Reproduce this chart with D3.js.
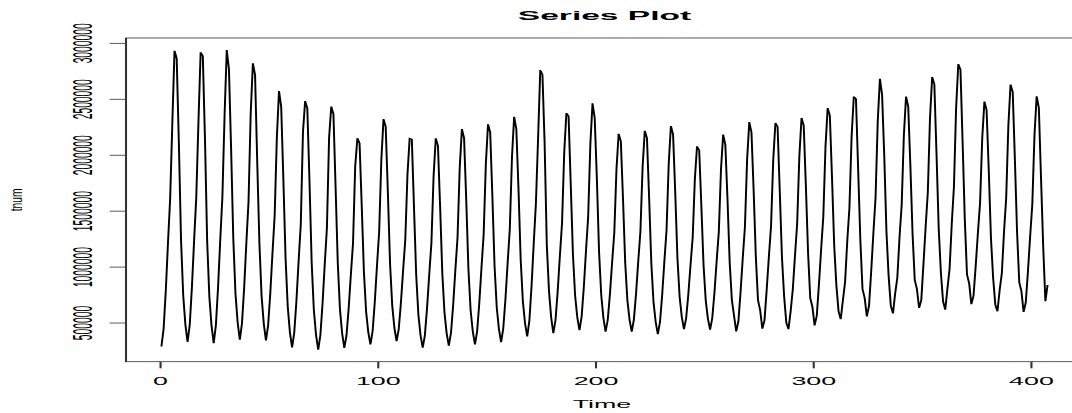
<!doctype html>
<html>
<head>
<meta charset="utf-8" />
<title>Series Plot</title>
<script src="https://d3js.org/d3.v7.min.js"></script>
<style>
  body { margin: 0; background: #fff; }
  svg { display: block; }
  text { font-family: "Liberation Sans", Arial, Helvetica, sans-serif; }
</style>
</head>
<body>
<svg width="1072" height="413"></svg>
<script>
// tnum, one value per month (t = 1..408), in thousands
var tnum = [
  285, 444, 787, 1210, 1607, 2283, 2929, 2861, 2104, 1236, 742, 481,
  325, 480, 817, 1232, 1620, 2294, 2915, 2882, 2137, 1226, 732, 472,
  316, 473, 814, 1233, 1626, 2354, 2936, 2766, 2050, 1252, 760, 501,
  346, 494, 816, 1211, 1582, 2370, 2817, 2712, 1931, 1207, 736, 489,
  340, 474, 764, 1120, 1455, 2150, 2569, 2429, 1780, 1079, 643, 414,
  276, 408, 695, 1047, 1378, 2200, 2479, 2414, 1760, 1035, 613, 390,
  257, 387, 670, 1018, 1344, 2150, 2430, 2363, 1700, 1027, 617, 401,
  272, 385, 628, 929, 1210, 1900, 2148, 2101, 1539, 949, 598, 414,
  303, 424, 686, 1008, 1311, 1955, 2318, 2250, 1663, 1028, 651, 452,
  333, 442, 678, 968, 1240, 1820, 2147, 2140, 1529, 930, 575, 387,
  275, 387, 631, 930, 1211, 1810, 2147, 2080, 1535, 941, 589, 403,
  292, 408, 660, 970, 1261, 1881, 2230, 2149, 1594, 977, 611, 419,
  303, 421, 677, 992, 1288, 1918, 2272, 2200, 1629, 1006, 637, 442,
  325, 446, 708, 1030, 1333, 1977, 2340, 2230, 1692, 1063, 690, 494,
  376, 519, 828, 1209, 1567, 2150, 2757, 2715, 2100, 1194, 781, 546,
  405, 523, 779, 1094, 1389, 2019, 2373, 2343, 1732, 1111, 742, 548,
  431, 553, 816, 1141, 1445, 2094, 2459, 2328, 1785, 1132, 745, 540,
  418, 524, 754, 1038, 1303, 1869, 2188, 2120, 1604, 1038, 701, 524,
  418, 526, 759, 1047, 1316, 1891, 2214, 2150, 1614, 1032, 686, 504,
  395, 507, 749, 1047, 1326, 1922, 2257, 2180, 1657, 1076, 731, 549,
  440, 538, 751, 1012, 1258, 1781, 2075, 2040, 1534, 1009, 697, 533,
  435, 540, 767, 1046, 1308, 1866, 2180, 2089, 1599, 1036, 702, 560,
  420, 510, 776, 1075, 1356, 1955, 2292, 2200, 1682, 1091, 700, 610,
  444, 520, 794, 1088, 1364, 1953, 2284, 2250, 1675, 1085, 735, 500,
  440, 600, 799, 1101, 1385, 1989, 2329, 2260, 1717, 1123, 720, 640,
  474, 560, 843, 1154, 1446, 2068, 2418, 2350, 1795, 1191, 832, 600,
  530, 700, 860, 1227, 1525, 2162, 2520, 2500, 1872, 1243, 800, 720,
  555, 650, 958, 1298, 1617, 2296, 2678, 2536, 1986, 1314, 916, 650,
  580, 760, 900, 1259, 1550, 2171, 2520, 2430, 1896, 1292, 880, 800,
  630, 700, 1022, 1353, 1663, 2323, 2695, 2630, 2009, 1343, 948, 690,
  615, 800, 980, 1383, 1713, 2415, 2810, 2760, 2101, 1414, 930, 850,
  663, 740, 1007, 1297, 1569, 2149, 2475, 2400, 1856, 1256, 900, 660,
  600, 790, 940, 1309, 1614, 2262, 2627, 2560, 1956, 1306, 860, 780,
  594, 680, 960, 1269, 1558, 2175, 2522, 2420, 1790, 1180, 690, 835
];
var unit = 1000;
var xTicks = [0, 100, 200, 300, 400];
var yTicks = [500000, 1000000, 1500000, 2000000, 2500000, 3000000];
var title = "Series Plot", xLabel = "Time", yLabel = "tnum";

// the picture is stretched sideways, strokes and text included
var stretch = 2.6;
var svg = d3.select("svg");
var g = svg.append("g").attr("transform", `scale(${stretch},1)`);

var n = tnum.length;
var xpad = 0.04 * (n - 1);
var x = d3.scaleLinear()
    .domain([1 - xpad, n + xpad])
    .range([126 / stretch, 1083 / stretch]);

var ext = d3.extent(tnum, d => d * unit);
var ypad = 0.04 * (ext[1] - ext[0]);
var y = d3.scaleLinear()
    .domain([ext[0] - ypad, ext[1] + ypad])
    .range([361.7, 38]);

// series
var line = d3.line()
    .x((d, i) => x(i + 1))
    .y(d => y(d * unit));

g.append("path")
  .datum(tnum)
  .attr("d", line)
  .attr("fill", "none")
  .attr("stroke", "#000")
  .attr("stroke-width", 0.75)
  .attr("shape-rendering", "crispEdges");

// box
g.append("rect")
  .attr("x", x.range()[0]).attr("y", y.range()[1])
  .attr("width", x.range()[1] - x.range()[0])
  .attr("height", y.range()[0] - y.range()[1])
  .attr("fill", "none")
  .attr("stroke", "#333")
  .attr("stroke-width", 0.8);

// axes
var xAxis = g.append("g")
  .attr("transform", `translate(0,${y.range()[0]})`)
  .call(d3.axisBottom(x).tickValues(xTicks).tickSize(6.6).tickPadding(9.4).tickFormat(d3.format("d")));
xAxis.select(".domain").remove();

var yAxis = g.append("g")
  .attr("transform", `translate(${x.range()[0]},0)`)
  .call(d3.axisLeft(y).tickValues(yTicks).tickSize(6.3).tickFormat(d3.format("d")));
yAxis.select(".domain").remove();
yAxis.selectAll(".tick text")
  .attr("x", 0).attr("dy", null)
  .attr("y", 91.7 / stretch - x.range()[0])
  .attr("transform", "rotate(-90)")
  .attr("text-anchor", "middle");

g.selectAll(".tick line").attr("stroke", "#333").attr("stroke-width", 0.8);
g.selectAll(".tick text").attr("fill", "#000");
[xAxis, yAxis].forEach(a => a.attr("font-size", 10.3)
  .attr("font-family", '"Liberation Sans", Arial, Helvetica, sans-serif'));

// titles
var midX = (x.range()[0] + x.range()[1]) / 2;
g.append("text")
  .attr("x", midX).attr("y", 20)
  .attr("text-anchor", "middle")
  .attr("font-weight", "bold")
  .attr("font-size", 12.9)
  .text(title);

g.append("text")
  .attr("x", 602 / stretch).attr("y", 408)
  .attr("text-anchor", "middle")
  .attr("font-size", 10.3)
  .text(xLabel);

g.append("text")
  .attr("transform", `translate(${22 / stretch},${(y.range()[0] + y.range()[1]) / 2}) scale(0.6,1) rotate(-90)`)
  .attr("text-anchor", "middle")
  .attr("font-size", 10.3)
  .text(yLabel);
</script>
</body>
</html>
